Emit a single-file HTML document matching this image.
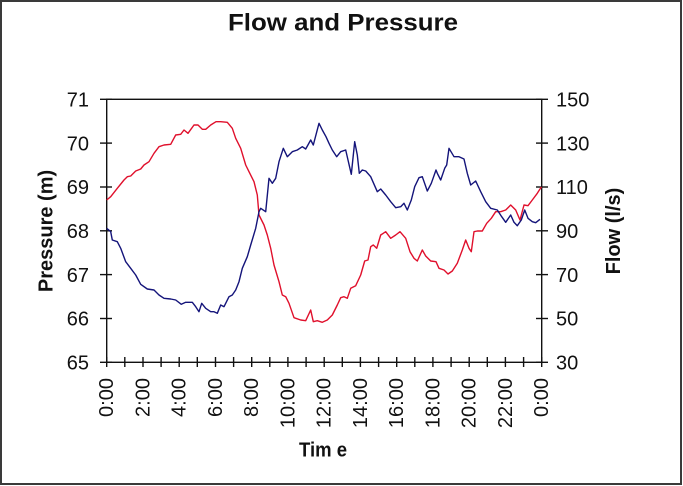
<!DOCTYPE html>
<html>
<head>
<meta charset="utf-8">
<style>
html,body{margin:0;padding:0;background:#fff;}
svg{display:block;}
text{font-family:"Liberation Sans",Arial,sans-serif;fill:#111;}
</style>
</head>
<body>
<svg width="683" height="486" viewBox="0 0 683 486" xmlns="http://www.w3.org/2000/svg">
<rect x="0" y="0" width="683" height="486" fill="#fff"/>
<rect x="1" y="1" width="680" height="483" fill="none" stroke="#3a3a3a" stroke-width="2"/>

<!-- Title -->
<text x="343" y="30.5" text-anchor="middle" font-size="24" font-weight="bold" textLength="230" lengthAdjust="spacingAndGlyphs">Flow and Pressure</text>

<!-- Plot frame -->
<rect x="106.7" y="99.3" width="435" height="263" fill="none" stroke="#111" stroke-width="1.4"/>

<!-- Left ticks -->
<g stroke="#111" stroke-width="1.4">
<line x1="100" y1="99.3" x2="112" y2="99.3"/>
<line x1="100" y1="143.1" x2="112" y2="143.1"/>
<line x1="100" y1="187" x2="112" y2="187"/>
<line x1="100" y1="230.8" x2="112" y2="230.8"/>
<line x1="100" y1="274.6" x2="112" y2="274.6"/>
<line x1="100" y1="318.5" x2="112" y2="318.5"/>
<line x1="100" y1="362.3" x2="112" y2="362.3"/>
<!-- Right ticks -->
<line x1="536" y1="99.3" x2="548" y2="99.3"/>
<line x1="536" y1="143.1" x2="548" y2="143.1"/>
<line x1="536" y1="187" x2="548" y2="187"/>
<line x1="536" y1="230.8" x2="548" y2="230.8"/>
<line x1="536" y1="274.6" x2="548" y2="274.6"/>
<line x1="536" y1="318.5" x2="548" y2="318.5"/>
<line x1="536" y1="362.3" x2="548" y2="362.3"/>
</g>
<!-- Bottom ticks -->
<g stroke="#111" stroke-width="1.4" id="bt">
<line x1="106.7" y1="357" x2="106.7" y2="367"/>
<line x1="124.8" y1="357" x2="124.8" y2="367"/>
<line x1="143" y1="357" x2="143" y2="367"/>
<line x1="161.1" y1="357" x2="161.1" y2="367"/>
<line x1="179.2" y1="357" x2="179.2" y2="367"/>
<line x1="197.3" y1="357" x2="197.3" y2="367"/>
<line x1="215.5" y1="357" x2="215.5" y2="367"/>
<line x1="233.6" y1="357" x2="233.6" y2="367"/>
<line x1="251.7" y1="357" x2="251.7" y2="367"/>
<line x1="269.8" y1="357" x2="269.8" y2="367"/>
<line x1="287.9" y1="357" x2="287.9" y2="367"/>
<line x1="306.1" y1="357" x2="306.1" y2="367"/>
<line x1="324.2" y1="357" x2="324.2" y2="367"/>
<line x1="342.3" y1="357" x2="342.3" y2="367"/>
<line x1="360.4" y1="357" x2="360.4" y2="367"/>
<line x1="378.6" y1="357" x2="378.6" y2="367"/>
<line x1="396.7" y1="357" x2="396.7" y2="367"/>
<line x1="414.8" y1="357" x2="414.8" y2="367"/>
<line x1="432.9" y1="357" x2="432.9" y2="367"/>
<line x1="451.1" y1="357" x2="451.1" y2="367"/>
<line x1="469.2" y1="357" x2="469.2" y2="367"/>
<line x1="487.3" y1="357" x2="487.3" y2="367"/>
<line x1="505.4" y1="357" x2="505.4" y2="367"/>
<line x1="523.6" y1="357" x2="523.6" y2="367"/>
<line x1="541.7" y1="357" x2="541.7" y2="367"/>
</g>

<!-- Left tick labels -->
<g font-size="20" text-anchor="end">
<text x="89" y="106.5">71</text>
<text x="89" y="150.3">70</text>
<text x="89" y="194.2">69</text>
<text x="89" y="238">68</text>
<text x="89" y="281.8">67</text>
<text x="89" y="325.7">66</text>
<text x="89" y="369.5">65</text>
</g>
<!-- Right tick labels -->
<g font-size="20" text-anchor="start">
<text x="556" y="106.5">150</text>
<text x="556" y="150.3">130</text>
<text x="556" y="194.2">110</text>
<text x="556" y="238">90</text>
<text x="556" y="281.8">70</text>
<text x="556" y="325.7">50</text>
<text x="556" y="369.5">30</text>
</g>

<!-- Bottom tick labels (rotated) -->
<g font-size="20" text-anchor="end">
<text transform="translate(113.2,378) rotate(-90)">0:00</text>
<text transform="translate(149.5,378) rotate(-90)">2:00</text>
<text transform="translate(185.7,378) rotate(-90)">4:00</text>
<text transform="translate(222,378) rotate(-90)">6:00</text>
<text transform="translate(258.2,378) rotate(-90)">8:00</text>
<text transform="translate(294.4,378) rotate(-90)">10:00</text>
<text transform="translate(330.7,378) rotate(-90)">12:00</text>
<text transform="translate(366.9,378) rotate(-90)">14:00</text>
<text transform="translate(403.2,378) rotate(-90)">16:00</text>
<text transform="translate(439.4,378) rotate(-90)">18:00</text>
<text transform="translate(475.7,378) rotate(-90)">20:00</text>
<text transform="translate(511.9,378) rotate(-90)">22:00</text>
<text transform="translate(548.2,378) rotate(-90)">0:00</text>
</g>

<!-- Axis titles -->
<text transform="translate(52.5,231) rotate(-90)" text-anchor="middle" font-size="20" font-weight="bold">Pressure (m)</text>
<text transform="translate(620,231) rotate(-90)" text-anchor="middle" font-size="20" font-weight="bold">Flow (l/s)</text>
<text x="299" y="456.5" font-size="20" font-weight="bold" textLength="48" lengthAdjust="spacingAndGlyphs">Tim e</text>

<!-- Red: Pressure -->
<polyline fill="none" stroke="#e0102c" stroke-width="1.4" stroke-linejoin="round" points="106.7,200 110.7,196.7 117.3,188.3 124,180 127.3,176.7 130.7,176 135.7,171 140.7,169 144,165 149,161.7 154,153.3 159,146.7 164,145 170.7,144.3 175.7,135 180.7,134.3 184,130 188,133.3 194,125 198,125 202.3,129.3 205.7,129.3 210.7,125 216,121.7 220.7,121.7 227.3,122.3 232.3,128.3 235.7,138.3 240.7,148.3 245.7,165 249,171.7 254,181.7 257.3,195 259,215 264,225 267.3,235 270.7,248.3 274,265 279,281.7 282.3,295 285.7,296.7 289,303.3 294,317.7 300.7,320 305.7,320.7 310.7,310 313.3,321.7 317.3,320.7 322.3,322.3 327.3,320 332.3,315 337.3,305 340.7,297.7 344,296.7 347.3,298.3 350.7,288.3 355.7,285.7 360.7,275 364.7,261 368,260 370.7,246.7 373.3,245 376.7,248.3 380.7,235 385.7,231.7 390.7,238.3 395.7,235 400,231.7 405.7,238.3 410,251.7 414,258.3 417.3,261 422.3,250 425.7,256 430.7,261 436,261.7 439,268.3 444,270 448,274 452.3,271 457.3,263.3 462.3,250 465.7,240 469,248.3 471.3,251.7 474,231.7 477.3,231 482.3,231 486.7,223.3 491.3,218.3 495.7,211.7 500.7,211.7 505.7,210 510.7,205 515.7,210 520,220 524,205 528,205.7 532.3,200 537.3,193.3 540,189 541.5,187"/>

<!-- Blue: Flow -->
<polyline fill="none" stroke="#14147a" stroke-width="1.4" stroke-linejoin="round" points="106.7,228.3 110.7,231.7 112.3,240 117.3,241.7 120.7,248.3 125.7,261.7 130.7,268.3 135.7,275 140.7,284.3 147.3,289 154,290 159,295 164,298.3 170.7,299 175.7,300 181.3,304.3 185.7,302.3 192.3,302.3 195.7,306.7 199,311.7 201.7,303.3 205.7,308.3 210.7,311.7 214,311.7 217.3,313.3 220.7,305 224,306.7 229,296.7 232.3,295 235.7,290 239,281.7 242.3,268.3 247.3,256.7 250.7,245 255.7,228.3 259,211.7 260.7,208.3 265.7,211.7 269,178.3 272.3,183.3 275.7,178.3 279,161.7 283.3,148.3 287.3,156.7 292.3,151.7 297.3,150 302.3,146.7 305.7,149 310.7,140 313.3,145 319,123.3 322.3,130 326,136.7 329,143.3 332.3,150 336.7,156.7 340.7,151.7 345.7,150 348,160 351.3,174.3 354.7,141.7 357.3,155 359.3,173.3 362.3,170 365.7,171 370.7,176.7 377.3,191.7 380.7,189 385.7,195 390.7,201.7 395.7,207.7 400.7,206.7 404,203.3 407.3,210 411.3,200 414.7,186.7 419,177.7 422.3,176.7 427.3,191 431.3,183.3 436,170 437.3,173.3 440.7,180 444.7,168.3 446.7,165 449,148.3 454,156.7 459,156.7 464,159 467.3,173.3 470.7,185 475.7,181 480.7,191.7 485.7,201.7 490.7,208.3 497.3,210 501.7,216.7 505.7,222.3 510.7,215 514,222.3 517.3,225.7 521.3,220 524.7,210 528,218.3 532.3,221.7 535.7,222.7 540,219.3"/>
</svg>
</body>
</html>
